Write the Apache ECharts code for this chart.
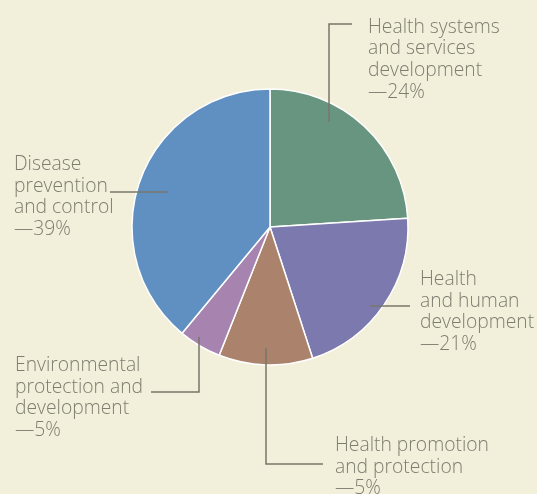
<!DOCTYPE html>
<html>
<head>
<meta charset="utf-8">
<script src="https://cdn.jsdelivr.net/npm/echarts@6/dist/echarts.min.js"></script>
<style>
html,body{margin:0;padding:0;background:#f2efdb;}
#c{width:537px;height:494px;}
</style>
</head>
<body>
<div id="c"></div>
<script>
// Categories (clockwise from 12 o'clock)
const categories = [
  'Health systems and services development',
  'Health and human development',
  'Health promotion and protection',
  'Environmental protection and development',
  'Disease prevention and control'
];
// Slice values as drawn (share of the pie, %)
const values = [24, 21, 11, 5, 39];
// Label text lines and printed percentages
const labelLines = [
  ['Health systems', 'and services', 'development'],
  ['Health', 'and human', 'development'],
  ['Health promotion', 'and protection'],
  ['Environmental', 'protection and', 'development'],
  ['Disease', 'prevention', 'and control']
];
const printedPct = ['24%', '21%', '5%', '5%', '39%'];
const colors = ['#679580', '#7b79ae', '#ab836c', '#a783b0', '#6090c2'];

// Label placement (layout only)
const labelPos = [
  {x: 368, y: 16.5, line: [[329, 122], [329, 24], [352, 24]]},
  {x: 420, y: 269, line: [[370, 306], [410, 306]]},
  {x: 335, y: 435, line: [[266, 348], [266, 464], [323, 464]]},
  {x: 15, y: 355, line: [[199, 337], [199, 392], [151, 392]]},
  {x: 14, y: 154, line: [[168, 192], [110, 192]]}
];

const chart = echarts.init(document.getElementById('c'), null, {renderer: 'canvas'});
chart.setOption({
  backgroundColor: '#f2efdb',
  animation: false,
  graphic: labelPos.map(L => ({
    type: 'polyline',
    z: 100,
    shape: {points: L.line},
    style: {stroke: '#77776a', lineWidth: 1.5, fill: null}
  })),
  series: [{
    type: 'pie',
    center: [270, 227],
    radius: [0, 138],
    startAngle: 90,
    clockwise: true,
    avoidLabelOverlap: false,
    data: categories.map((n, i) => ({
      name: n, value: values[i],
      itemStyle: {color: colors[i]}
    })),
    itemStyle: {borderColor: '#ffffff', borderWidth: 1.5},
    label: {
      show: true,
      position: 'outside',
      formatter: p => labelLines[p.dataIndex].concat('\u2014' + printedPct[p.dataIndex]).join('\n'),
      fontFamily: 'Open Sans',
      fontWeight: 300,
      fontSize: 19.3,
      lineHeight: 21.6,
      color: '#7e7e70',
      align: 'left'
    },
    labelLine: {show: false},
    labelLayout: p => {
      const L = labelPos[p.dataIndex];
      return {x: L.x, y: L.y, align: 'left', verticalAlign: 'top'};
    },
    emphasis: {disabled: true}
  }]
});
</script>
</body>
</html>
